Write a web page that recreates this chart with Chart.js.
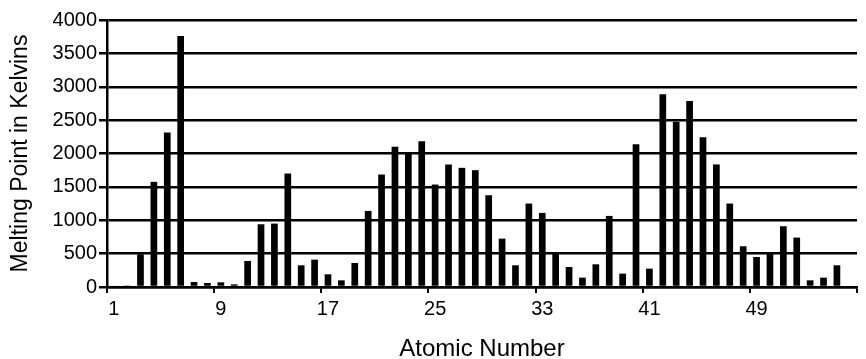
<!DOCTYPE html>
<html>
<head>
<meta charset="utf-8">
<script src="https://cdn.jsdelivr.net/npm/chart.js@4"></script>
<style>
    html, body { margin: 0; padding: 0; background: #fff; }
    #wrap { width: 866px; height: 359px; }
</style>
</head>
<body>
<div id="wrap"><canvas id="meltChart"></canvas></div>
<script>
// Atomic numbers 1..56
const atomicNumbers = Array.from({ length: 56 }, (_, i) => String(i + 1));

// Melting point (K)
const meltingPoints = [
    20, 1, 490, 1575, 2315, 3760, 75, 60, 70, 40,
    390, 940, 950, 1700, 325, 410, 190, 100, 360, 1140,
    1685, 2100, 2000, 2185, 1535, 1835, 1785, 1750, 1375, 725,
    325, 1250, 1110, 500, 300, 140, 340, 1065, 200, 2140,
    275, 2886, 2475, 2785, 2245, 1836, 1250, 610, 450, 500,
    910, 740, 100, 140, 325, null
];

// Y ticks
const yTicks = [0, 500, 1000, 1500, 2000, 2500, 3000, 3500, 4000];

const font = 'Liberation Sans, Arial, Helvetica, sans-serif';

// Only every 8th category boundary gets a tick mark
const xTickColor = ctx => (ctx.index === undefined || ctx.index % 8 === 0) ? '#000' : 'rgba(0,0,0,0)';

new Chart(document.getElementById('meltChart'), {
    type: 'bar',
    data: {
        labels: atomicNumbers,
        datasets: [{
            label: 'Melting Point',
            data: meltingPoints,
            backgroundColor: '#000',
            categoryPercentage: 1,
            barPercentage: 0.5
        }]
    },
    options: {
        responsive: true,
        maintainAspectRatio: false,
        animation: false,
        layout: { padding: { left: 0, right: 9, top: 20, bottom: 0 } },
        plugins: {
            legend: { display: false },
            tooltip: { enabled: false }
        },
        scales: {
            x: {
                offset: true,
                grid: {
                    offset: true,
                    drawOnChartArea: false,
                    drawTicks: true,
                    tickLength: 6,
                    lineWidth: 2,
                    color: xTickColor,
                    tickColor: xTickColor
                },
                border: { color: '#000', width: 2.5 },
                ticks: {
                    autoSkip: false,
                    maxRotation: 0,
                    padding: 4,
                    color: '#000',
                    font: { family: font, size: 20 },
                    callback: (v, i) => i % 8 === 0 ? atomicNumbers[i] : ''
                },
                title: {
                    display: true,
                    text: 'Atomic Number',
                    color: '#000',
                    font: { family: font, size: 24 },
                    padding: { top: 0, bottom: -5 }
                },
                afterFit: s => { s.height = 72; }
            },
            y: {
                min: 0,
                max: 4000,
                afterBuildTicks: s => { s.ticks = yTicks.map(v => ({ value: v })); },
                grid: {
                    color: '#000',
                    lineWidth: 2.5,
                    drawTicks: true,
                    tickLength: 8
                },
                border: { color: '#000', width: 2.5 },
                ticks: {
                    padding: 2,
                    color: '#000',
                    font: { family: font, size: 20 },
                    callback: v => String(v)
                },
                title: {
                    display: true,
                    text: 'Melting Point in Kelvins',
                    color: '#000',
                    font: { family: font, size: 23 },
                    padding: { top: 7, bottom: 0 }
                },
                afterFit: s => { s.width = 107; }
            }
        }
    }
});
</script>
</body>
</html>
